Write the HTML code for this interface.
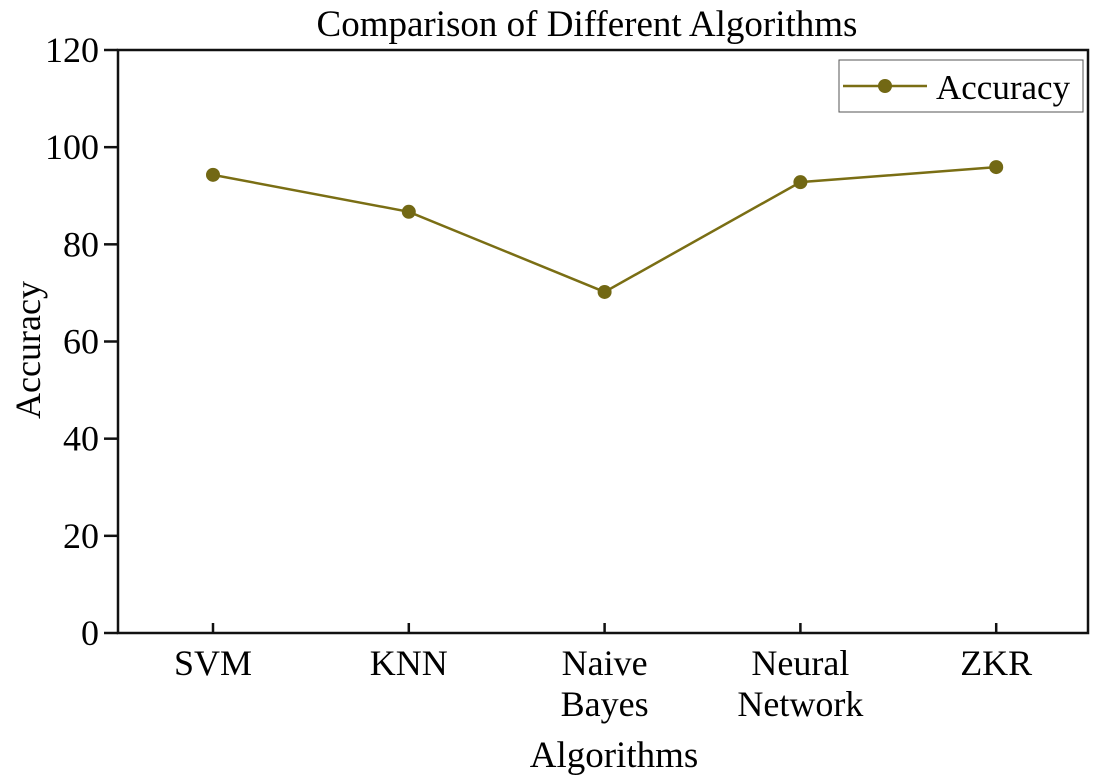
<!DOCTYPE html>
<html><head><meta charset="utf-8"><style>
html,body{margin:0;padding:0;background:#fff;}
svg{display:block;font-family:"Liberation Serif",serif;}
</style></head><body>
<svg id="chart" width="1097" height="779">
<text x="587" y="36" font-size="37" text-anchor="middle">Comparison of Different Algorithms</text>
<rect x="118" y="50" width="970" height="583" fill="none" stroke="#111" stroke-width="2.5"/>
<g id="yaxis"></g><g id="xaxis"></g><g id="series"></g>
<text transform="translate(40,350) rotate(-90)" font-size="36" text-anchor="middle">Accuracy</text>
<text x="614" y="767" font-size="37" text-anchor="middle">Algorithms</text>
<g>
<rect x="839" y="60" width="244" height="52" fill="#fff" stroke="#555" stroke-width="1"/>
<line x1="843" y1="86" x2="927" y2="86" stroke="#7a6e14" stroke-width="2.5"/>
<circle cx="885" cy="86" r="7" fill="#726814"/>
<text x="936" y="99" font-size="35">Accuracy</text>
</g>
</svg>
<script>
const categories=[["SVM"],["KNN"],["Naive","Bayes"],["Neural","Network"],["ZKR"]];
const accuracy=[94.3,86.7,70.2,92.8,95.9];
const yTicks=[0,20,40,60,80,100,120];
const NS="http://www.w3.org/2000/svg";
const y=v=>633-v*(583/120);
const x=i=>213+i*195.8;
function mk(t,a,p){const e=document.createElementNS(NS,t);for(const k in a)e.setAttribute(k,a[k]);p.appendChild(e);return e;}
const ya=document.getElementById('yaxis'),xa=document.getElementById('xaxis'),se=document.getElementById('series');
yTicks.forEach(v=>{
 const l=mk('line',{x1:104,x2:118,y1:y(v),y2:y(v),stroke:'#111','stroke-width':2.5},ya);
 
 
 const t=mk('text',{x:99,y:y(v)+12,'font-size':36,'text-anchor':'end'},ya);t.textContent=v;
 
 
});
categories.forEach((c,i)=>{
 const l=mk('line',{x1:x(i),x2:x(i),y1:623,y2:633,stroke:'#111','stroke-width':2.5},xa);
 
 
 c.forEach((s,j)=>{const t=mk('text',{x:x(i),y:675+j*41,'font-size':36,'text-anchor':'middle'},xa);t.textContent=s;
 
 });
});
const pl=mk('polyline',{points:accuracy.map((v,i)=>x(i)+','+y(v)).join(' '),fill:'none',stroke:'#7a6e14','stroke-width':2.5},se);


accuracy.forEach((v,i)=>{const c=mk('circle',{cx:x(i),cy:y(v),r:7,fill:'#726814'},se);
 
 });
</script>
</body></html>
